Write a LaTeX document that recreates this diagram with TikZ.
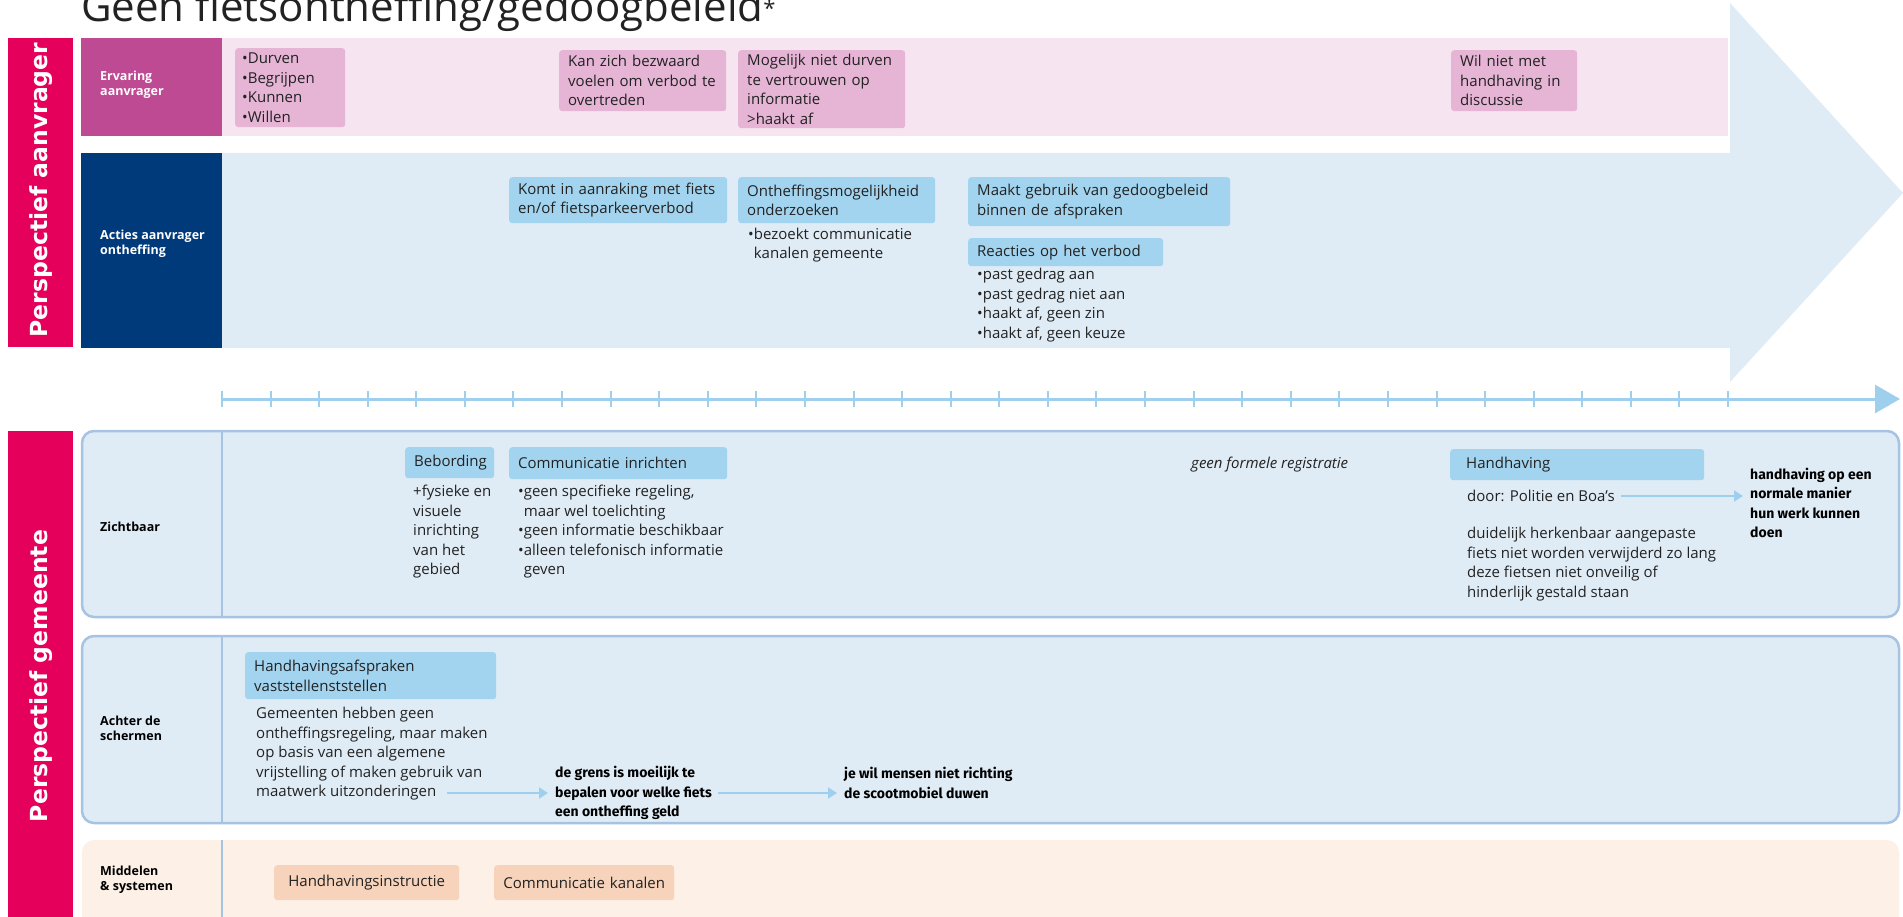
\documentclass[tikz,border=0pt]{standalone}
\usepackage{fontspec}
\setmainfont{Open Sans}
\newfontfamily\kopfont{DejaVu Sans}
\newfontfamily\handfont{Fira Sans}
\usetikzlibrary{arrows.meta}

\definecolor{magentabar}{HTML}{E4005B}
\definecolor{paarslabel}{HTML}{BF4A94}
\definecolor{rozeband}{HTML}{F6E5F0}
\definecolor{rozebox}{HTML}{E6B5D6}
\definecolor{navy}{HTML}{003A7B}
\definecolor{lichtblauw}{HTML}{DFECF6}
\definecolor{blauwbox}{HTML}{A3D4EF}
\definecolor{tijdlijn}{HTML}{9ED0EE}
\definecolor{rijrand}{HTML}{A6C3E4}
\definecolor{perzikband}{HTML}{FDF0E6}
\definecolor{perzikbox}{HTML}{F6D3BA}
\definecolor{donker}{HTML}{222222}

\newcommand{\tekst}{\fontsize{15}{19.5}\selectfont}
\newcommand{\labeltekst}{\bfseries\fontsize{12.5}{15}\selectfont}
\newcommand{\titeltekst}{\fontsize{42}{46}\selectfont}
\newcommand{\kopletter}{\kopfont\bfseries\fontsize{23.5}{28}\selectfont}
\newcommand{\handtekst}{\handfont\bfseries\fontsize{14}{19.5}\selectfont}

\begin{document}
\begin{tikzpicture}[x=1pt,y=-1pt,
  roze/.style={fill=rozebox, rounded corners=3pt, anchor=north west, align=left,
    inner xsep=9pt, inner ysep=0pt, font=\tekst, text=donker},
  blauw/.style={roze, fill=blauwbox},
  perzik/.style={roze, fill=perzikbox, align=center},
  tekstblok/.style={anchor=west, align=left, inner sep=0pt, font=\tekst, text=donker},
  hand/.style={tekstblok, font=\handtekst, text=black},
  rijlabel/.style={anchor=west, align=left, inner sep=0pt, font=\labeltekst},
  pijl/.style={tijdlijn, line width=2.5pt, shorten <=6pt, shorten >=7pt,
    -{Triangle[length=9pt,width=11pt]}}]
\clip (0,0) rectangle (1903,917);

% title
\node[anchor=base west, inner sep=0pt, font=\titeltekst, text=donker] (titel) at (81,22) {Geen fietsontheffing/gedoogbeleid\raisebox{5pt}{\fontsize{22}{22}\selectfont*}};

% perspectief aanvrager
\fill[magentabar] (8,38) rectangle (73,347);
\node[rotate=90, font=\kopletter, text=white] (persaanvrager) at (41,190) {Perspectief aanvrager};
\fill[lichtblauw] (222,153) -- (1730,153) -- (1730,3) -- (1903,193) -- (1730,382)
  -- (1730,348) -- (222,348) -- cycle;
\fill[rozeband] (222,38) rectangle (1728,136);
\fill[paarslabel] (81,38) rectangle (222,136);
\fill[navy] (81,153) rectangle (222,348);
\node[rijlabel, text=white] (ervaring) at (100,85) {Ervaring\\aanvrager};
\node[rijlabel, text=white] (acties) at (100,244) {Acties aanvrager\\ontheffing};

\node[roze, text width=96pt, minimum height=79pt, inner xsep=7pt] (durven) at (235,48) {•Durven\\•Begrijpen\\•Kunnen\\•Willen};
\node[roze, text width=149pt, minimum height=61pt] (bezwaard) at (559,50) {Kan zich bezwaard\\voelen om verbod te\\overtreden};
\node[roze, text width=149pt, minimum height=78pt] (vertrouwen) at (738,50) {Mogelijk niet durven\\te vertrouwen op\\informatie\\>haakt af};
\node[roze, text width=108pt, minimum height=61pt] (discussie) at (1451,50) {Wil niet met\\handhaving in\\discussie};

\node[blauw, text width=200pt, minimum height=46pt] (aanraking) at (509,177) {Komt in aanraking met fiets\\en/of fietsparkeerverbod};
\node[blauw, text width=179pt, minimum height=46pt] (onderzoek) at (738,177) {Ontheffingsmogelijkheid\\onderzoeken};
\node[tekstblok] (bezoekt) at (748,245) {•bezoekt communicatie\\\phantom{•}kanalen gemeente};
\node[blauw, text width=244pt, minimum height=49pt] (gedoog) at (968,177) {Maakt gebruik van gedoogbeleid\\binnen de afspraken};
\node[blauw, text width=177pt, minimum height=28pt] (reacties) at (968,238) {Reacties op het verbod};
\node[tekstblok] (reactielijst) at (977,305) {•past gedrag aan\\•past gedrag niet aan\\•haakt af, geen zin\\•haakt af, geen keuze};

% tijdlijn
\draw[tijdlijn, line width=3pt, -{Triangle[length=25pt,width=28pt]}] (222,399) -- (1900,399);
\foreach \t in {0,...,31}
  \draw[tijdlijn, line width=2pt] ({222+48.58*\t},391) -- ++(0,16);

% perspectief gemeente
\fill[magentabar] (8,431) rectangle (73,930);
\node[rotate=90, font=\kopletter, text=white] (persgemeente) at (41,676) {Perspectief gemeente};

\draw[rijrand, line width=2.5pt, fill=lichtblauw, rounded corners=12pt] (82,431) rectangle (1899,617);
\draw[rijrand, line width=1.5pt] (222,431) -- (222,617);
\draw[rijrand, line width=2.5pt, fill=lichtblauw, rounded corners=12pt] (82,636) rectangle (1899,823);
\draw[rijrand, line width=1.5pt] (222,636) -- (222,823);
\fill[perzikband, rounded corners=12pt] (82,840) rectangle (1899,950);
\draw[rijrand, line width=1.2pt] (222,840) -- (222,917);

\node[rijlabel] (zichtbaar) at (100,527) {Zichtbaar};
\node[rijlabel] (achter) at (100,728) {Achter de\\schermen};
\node[rijlabel] (middelen) at (100,880) {Middelen\\\& systemen};

% zichtbaar
\node[blauw, text width=71pt, minimum height=31pt] (bebording) at (405,447) {Bebording};
\node[tekstblok] (fysiek) at (413,532) {+fysieke en\\visuele\\inrichting\\van het\\gebied};
\node[blauw, text width=200pt, minimum height=32pt] (communicatie) at (509,447) {Communicatie inrichten};
\node[tekstblok] (regeling) at (518,532) {•geen specifieke regeling,\\\phantom{•}maar wel toelichting\\•geen informatie beschikbaar\\•alleen telefonisch informatie\\\phantom{•}geven};
\node[tekstblok, font=\tekst\itshape] (registratie) at (1191,465) {geen formele registratie};
\node[blauw, text width=222pt, minimum height=31pt, inner xsep=16pt] (handhaving) at (1450,449) {Handhaving};
\node[tekstblok] (door) at (1467,496) {door: Politie en Boa’s};
\node[tekstblok] (herkenbaar) at (1467,564) {duidelijk herkenbaar aangepaste\\fiets niet worden verwijderd zo lang\\deze fietsen niet onveilig of\\hinderlijk gestald staan};
\node[hand] (normaal) at (1750,503) {handhaving op een\\normale manier\\hun werk kunnen\\doen};
\draw[pijl] (door.east) -- (door.east -| normaal.west);

% achter de schermen
\node[blauw, text width=233pt, minimum height=47pt] (afspraken) at (245,652) {Handhavingsafspraken\\vaststellenststellen};
\node[tekstblok] (gemeenten) at (256,754) {Gemeenten hebben geen\\ontheffingsregeling, maar maken\\op basis van een algemene\\vrijstelling of maken gebruik van\\maatwerk uitzonderingen};
\node[hand] (grens) at (555,793) {de grens is moeilijk te\\bepalen voor welke fiets\\een ontheffing geld};
\node[hand] (scoot) at (844,783) {je wil mensen niet richting\\de scootmobiel duwen};
\coordinate (uitz) at (441,793);
\draw[pijl] (uitz) -- (uitz -| grens.west);
\draw[pijl] (grens.east) -- (grens.east -| scoot.west);

% middelen & systemen
\node[perzik, text width=167pt, minimum height=35pt] (instructie) at (274,865) {Handhavingsinstructie};
\node[perzik, text width=162pt, minimum height=35pt] (kanalen) at (494,865) {Communicatie kanalen};
\end{tikzpicture}
\end{document}
